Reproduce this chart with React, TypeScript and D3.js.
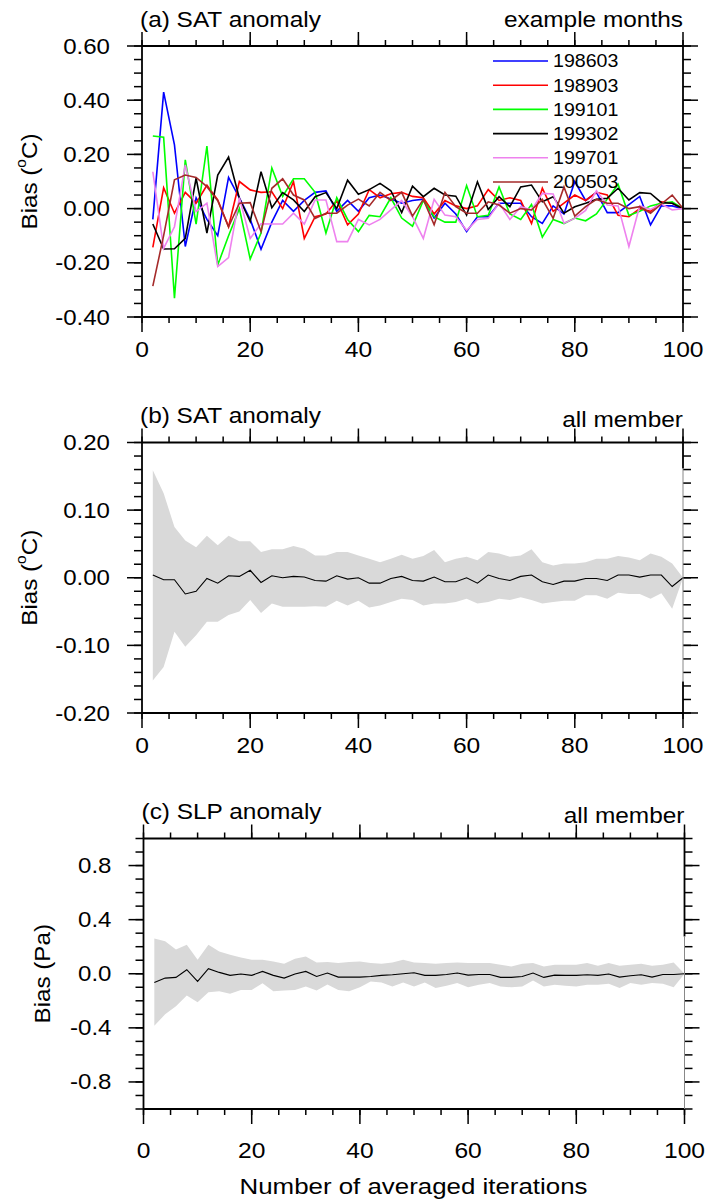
import * as d3 from 'd3'

// iteration counts (x axis)
const ITERS = [
  2, 4, 6, 8, 10, 12, 14, 16, 18, 20, 22, 24, 26, 28, 30, 32, 34, 36, 38, 40,
  42, 44, 46, 48, 50, 52, 54, 56, 58, 60, 62, 64, 66, 68, 70, 72, 74, 76, 78, 80,
  82, 84, 86, 88, 90, 92, 94, 96, 98, 100
]

// (a) SAT anomaly, example months
const MONTHS = ['198603', '198903', '199101', '199302', '199701', '200503']
const MONTH_COLORS = ['#0000ff', '#ff0000', '#00ff00', '#000000', '#ee82ee', '#a52a2a']

const s198603 = [
  -0.04, 0.43, 0.235, -0.14, 0.04, -0.04, -0.10, 0.115, 0.04, -0.04,
  -0.15, -0.05, 0.03, -0.01, 0.03, 0.06, 0.065, -0.01, 0.03, -0.01,
  0.04, 0.05, 0.035, 0.02, 0.03, 0.035, -0.035, 0.02, -0.02, -0.085,
  -0.03, -0.03, 0.02, 0.02, 0.02, -0.03, -0.055, 0.01, -0.02, 0.10,
  0.03, 0.06, -0.015, -0.015, 0.015, 0.045, -0.06, 0.01, 0.01, 0.0
]
const s198903 = [
  -0.143, 0.077, -0.017, 0.06, 0.02, 0.086, 0.032, -0.067, 0.10, 0.069,
  0.06, 0.062, 0.0, 0.10, -0.11, -0.03, -0.02, 0.03, -0.06, -0.02,
  0.07, 0.04, 0.055, 0.06, 0.045, 0.04, -0.02, 0.03, 0.01, 0.0,
  0.01, 0.07, 0.03, 0.04, 0.03, -0.055, 0.075, -0.01, 0.02, 0.05,
  0.03, 0.06, 0.05, -0.025, -0.03, 0.0, -0.01, 0.025, 0.02, 0.0
]
const s199101 = [
  0.268, 0.263, -0.331, 0.18, -0.057, 0.231, -0.208, -0.10, 0.0, -0.186,
  -0.09, 0.15, 0.045, 0.11, 0.11, 0.06, -0.09, 0.04, -0.04, -0.085,
  -0.025, -0.03, 0.04, -0.035, -0.065, 0.03, -0.03, -0.05, -0.05, 0.085,
  -0.03, -0.025, 0.08, -0.02, -0.04, 0.015, -0.105, -0.04, -0.055, -0.035,
  -0.045, -0.02, 0.035, 0.09, -0.025, -0.01, 0.01, 0.02, 0.025, 0.0
]
const s199302 = [
  -0.057, -0.149, -0.148, -0.11, 0.112, -0.09, 0.124, 0.19, 0.038, -0.048,
  0.136, 0.003, 0.059, 0.032, -0.011, 0.044, 0.059, 0.0, 0.105, 0.053,
  0.07, 0.093, 0.066, -0.015, 0.083, 0.044, 0.075, 0.05, 0.046, -0.024,
  0.099, -0.003, 0.044, 0.007, 0.08, 0.087, 0.025, 0.044, -0.017, 0.007,
  0.02, 0.034, 0.038, 0.075, 0.032, 0.059, 0.056, 0.022, 0.02, 0.0
]
const s199701 = [
  0.136, -0.147, -0.067, 0.161, -0.011, 0.02, -0.214, -0.181, 0.04, -0.11,
  -0.056, -0.057, -0.057, -0.017, -0.057, 0.032, 0.032, -0.122, -0.122, -0.04,
  -0.06, -0.04, -0.005, 0.03, -0.03, -0.11, 0.034, -0.024, -0.03, -0.08,
  -0.04, -0.036, 0.02, -0.04, 0.007, -0.005, 0.056, 0.054, -0.054, -0.036,
  -0.007, 0.066, 0.013, 0.01, -0.14, 0.01, -0.003, 0.017, -0.005, 0.0
]
const s200503 = [
  -0.286, -0.10, 0.106, 0.124, 0.115, 0.081, 0.029, -0.067, 0.02, 0.022,
  -0.085, 0.075, 0.11, 0.05, 0.032, -0.036, -0.017, -0.017, 0.013, 0.035,
  0.01, 0.06, 0.03, 0.06, -0.028, 0.034, -0.06, 0.06, 0.007, -0.017,
  -0.017, 0.025, 0.013, -0.017, 0.0, -0.005, 0.034, -0.036, 0.08, -0.028,
  0.007, 0.034, 0.02, 0.02, 0.0, 0.007, -0.017, 0.017, 0.05, 0.0
]
const MONTH_SERIES = [s198603, s198903, s199101, s199302, s199701, s200503]

// (b) SAT anomaly, all member: spread and mean
const satUpper = [
  0.159, 0.125, 0.075, 0.055, 0.045, 0.062, 0.048, 0.062, 0.054, 0.054,
  0.038, 0.042, 0.042, 0.047, 0.043, 0.033, 0.033, 0.038, 0.038, 0.033,
  0.028, 0.023, 0.028, 0.034, 0.028, 0.032, 0.041, 0.023, 0.028, 0.031,
  0.026, 0.038, 0.036, 0.031, 0.033, 0.042, 0.023, 0.018, 0.021, 0.021,
  0.023, 0.028, 0.028, 0.032, 0.03, 0.026, 0.036, 0.031, 0.021, 0.0
]
const satLower = [
  -0.152, -0.132, -0.08, -0.102, -0.085, -0.065, -0.065, -0.055, -0.05, -0.033,
  -0.052, -0.038, -0.043, -0.043, -0.043, -0.042, -0.043, -0.034, -0.041, -0.034,
  -0.044, -0.041, -0.036, -0.031, -0.033, -0.041, -0.038, -0.038, -0.036, -0.031,
  -0.038, -0.036, -0.031, -0.033, -0.029, -0.033, -0.038, -0.036, -0.034, -0.034,
  -0.026, -0.026, -0.031, -0.022, -0.024, -0.024, -0.031, -0.023, -0.046, 0.0
]
const satMean = [
  0.004, -0.003, -0.003, -0.024, -0.02, -0.001, -0.008, 0.003, 0.002, 0.011,
  -0.007, 0.003, 0.0, 0.002, 0.001, -0.004, -0.005, 0.003, -0.002, 0.0,
  -0.008, -0.008, -0.001, 0.002, -0.004, -0.005, 0.001, -0.006, -0.006, 0.0,
  -0.008, 0.004, -0.001, -0.004, 0.002, 0.004, -0.006, -0.01, -0.005, -0.005,
  -0.001, -0.001, -0.004, 0.004, 0.004, 0.001, 0.004, 0.004, -0.013, 0.0
]

// (c) SLP anomaly, all member
const slpUpper = [
  0.26, 0.24, 0.18, 0.215, 0.104, 0.215, 0.165, 0.14, 0.12, 0.104,
  0.104, 0.09, 0.074, 0.11, 0.128, 0.084, 0.086, 0.079, 0.086, 0.09,
  0.08, 0.074, 0.084, 0.104, 0.084, 0.08, 0.074, 0.08, 0.084, 0.08,
  0.08, 0.08, 0.067, 0.054, 0.074, 0.08, 0.054, 0.067, 0.067, 0.067,
  0.08, 0.06, 0.08, 0.06, 0.067, 0.074, 0.06, 0.067, 0.084, 0.0
]
const slpLower = [
  -0.385, -0.30, -0.24, -0.16, -0.21, -0.136, -0.13, -0.148, -0.12, -0.12,
  -0.07, -0.13, -0.123, -0.12, -0.094, -0.123, -0.08, -0.12, -0.13, -0.1,
  -0.057, -0.064, -0.094, -0.064, -0.094, -0.064, -0.106, -0.089, -0.069, -0.1,
  -0.081, -0.069, -0.094, -0.1, -0.094, -0.049, -0.094, -0.081, -0.089, -0.094,
  -0.081, -0.081, -0.074, -0.106, -0.069, -0.081, -0.069, -0.074, -0.1, 0.0
]
const slpMean = [
  -0.064, -0.032, -0.027, 0.03, -0.057, 0.037, 0.01, -0.012, -0.002, -0.012,
  0.017, -0.012, -0.032, -0.002, 0.017, -0.02, 0.005, -0.025, -0.025, -0.025,
  -0.02, -0.012, -0.007, 0.0, 0.007, -0.012, -0.012, -0.005, 0.005, -0.01,
  -0.005, -0.005, -0.027, -0.027, -0.02, 0.005, -0.027, -0.01, -0.012, -0.012,
  -0.007, -0.012, -0.002, -0.025, -0.015, -0.007, -0.025, -0.005, -0.005, 0.0
]

const X_MAJOR = [0, 20, 40, 60, 80, 100]
const FONT = "'Liberation Sans', Arial, Helvetica, sans-serif"

function Txt({ x, y, size = 22, sx = 1.12, rotate = 0, anchor = 'start', baseline = 'auto', children }: any) {
  const tr = `translate(${x},${y})` + (rotate ? ` rotate(${rotate})` : '') + ` scale(${sx},1)`
  return (
    <text transform={tr} fontSize={size} fontFamily={FONT} textAnchor={anchor} dominantBaseline={baseline} fill="#000">
      {children}
    </text>
  )
}

function Panel({ box, yDomain, yMajor, yMinorStep, digits, title, rightTitle, ylabel, labelGap, rightGap, children }: any) {
  const { left, right, top, bottom } = box
  const x = d3.scaleLinear().domain([0, 100]).range([left, right])
  const y = d3.scaleLinear().domain(yDomain).range([bottom, top])
  const xMinor = d3.range(0, 100.001, 5)
  const yMinor = d3.range(yDomain[0], yDomain[1] + 1e-9, yMinorStep)
  const MAJ = 15, MIN = 8
  const fmt = (v: number) => (Math.round(v * 1000) / 1000).toFixed(digits)
  const tick = { stroke: '#000', strokeWidth: 1.5 }

  return (
    <g>
      {children(x, y)}

      {/* x ticks, top and bottom, pointing outward */}
      {xMinor.map(v => (
        <g key={`xm${v}`}>
          <line x1={x(v)} x2={x(v)} y1={top} y2={top - 6} {...tick} />
          <line x1={x(v)} x2={x(v)} y1={bottom} y2={bottom + 6} {...tick} />
        </g>
      ))}
      {X_MAJOR.map(v => (
        <g key={`xM${v}`}>
          <line x1={x(v)} x2={x(v)} y1={top} y2={top - 14} {...tick} />
          <line x1={x(v)} x2={x(v)} y1={bottom} y2={bottom + MAJ} {...tick} />
          <Txt x={x(v)} y={bottom + labelGap} anchor="middle">{v}</Txt>
        </g>
      ))}

      {/* y ticks, left and right */}
      {yMinor.map((v: number, i: number) => (
        <g key={`ym${i}`}>
          <line x1={left - MIN} x2={left} y1={y(v)} y2={y(v)} {...tick} />
          <line x1={right} x2={right + MIN} y1={y(v)} y2={y(v)} {...tick} />
        </g>
      ))}
      {yMajor.map((v: number, i: number) => (
        <g key={`yM${i}`}>
          <line x1={left - MAJ} x2={left} y1={y(v)} y2={y(v)} {...tick} />
          <line x1={right} x2={right + MAJ} y1={y(v)} y2={y(v)} {...tick} />
          <Txt x={left - 32} y={y(v)} anchor="end" baseline="central" size={21.5}>{fmt(v)}</Txt>
        </g>
      ))}

      {/* frame */}
      <line x1={left} x2={right} y1={top} y2={top} stroke="#000" strokeWidth={1.8} />
      <line x1={left} x2={right} y1={bottom} y2={bottom} stroke="#000" strokeWidth={1.8} />
      <line x1={left} x2={left} y1={top} y2={bottom} stroke="#000" strokeWidth={1.8} />
      {rightGap ? (
        <g>
          <line x1={right} x2={right} y1={top} y2={top + rightGap[0]} stroke="#000" strokeWidth={1.8} />
          <line x1={right} x2={right} y1={top + rightGap[0]} y2={top + rightGap[1]} stroke="#888" strokeWidth={1} />
          <line x1={right} x2={right} y1={top + rightGap[1]} y2={bottom} stroke="#000" strokeWidth={1.8} />
        </g>
      ) : (
        <line x1={right} x2={right} y1={top} y2={bottom} stroke="#000" strokeWidth={1.8} />
      )}

      <Txt x={left - 2} y={top - 19.5} sx={1.11}>{title}</Txt>
      <Txt x={right} y={top - rightTitle.dy} anchor="end" sx={1.11}>{rightTitle.text}</Txt>
      <Txt x={ylabel.x} y={(top + bottom) / 2} rotate={-90} anchor="middle" baseline="central" sx={1.1}>
        {ylabel.content}
      </Txt>
    </g>
  )
}

function Band({ x, y, upper, lower, mean }: any) {
  const area = d3.area<number>()
    .x((_, i) => x(ITERS[i]))
    .y0((_, i) => y(lower[i]))
    .y1(d => y(d))
  const line = d3.line<number>()
    .x((_, i) => x(ITERS[i]))
    .y(d => y(d))
  return (
    <g>
      <path d={area(upper) || ''} fill="#d9d9d9" stroke="none" />
      <path d={line(mean) || ''} fill="none" stroke="#000" strokeWidth={1.1} />
    </g>
  )
}

const degC = (
  <>
    Bias (<tspan fontSize={14} dy={-8}>o</tspan><tspan dy={8}>C)</tspan>
  </>
)

export default function App() {
  const line = (x: any, y: any) => d3.line<number>()
    .x((_, i) => x(ITERS[i]))
    .y(d => y(d))

  return (
    <svg width={707} height={1202} style={{ position: 'absolute', left: 0, top: 0, background: '#fff' }}>
      <Panel
        box={{ left: 142, right: 683, top: 46, bottom: 317 }}
        yDomain={[-0.4, 0.6]}
        yMajor={[-0.4, -0.2, 0, 0.2, 0.4, 0.6]}
        yMinorStep={0.05}
        digits={2}
        title="(a) SAT anomaly"
        rightTitle={{ text: 'example months', dy: 19.5 }}
        ylabel={{ x: 29, content: degC }}
        labelGap={40}
      >
        {(x: any, y: any) => (
          <g>
            {MONTH_SERIES.map((s, k) => (
              <path key={MONTHS[k]} d={line(x, y)(s) || ''} fill="none" stroke={MONTH_COLORS[k]} strokeWidth={1.6} strokeLinejoin="miter" />
            ))}
            {MONTHS.map((m, k) => (
              <g key={`lg${m}`}>
                <line x1={493} x2={548} y1={61 + k * 24.2} y2={61 + k * 24.2} stroke={MONTH_COLORS[k]} strokeWidth={1.6} />
                <Txt x={553} y={61 + k * 24.2} baseline="central" size={18.5} sx={1.06}>{m}</Txt>
              </g>
            ))}
          </g>
        )}
      </Panel>

      <Panel
        box={{ left: 142, right: 683, top: 442.5, bottom: 713 }}
        yDomain={[-0.2, 0.2]}
        yMajor={[-0.2, -0.1, 0, 0.1, 0.2]}
        yMinorStep={0.02}
        digits={2}
        title="(b) SAT anomaly"
        rightTitle={{ text: 'all member', dy: 15.5 }}
        ylabel={{ x: 29, content: degC }}
        labelGap={40}
        rightGap={[26, 239]}
      >
        {(x: any, y: any) => <Band x={x} y={y} upper={satUpper} lower={satLower} mean={satMean} />}
      </Panel>

      <Panel
        box={{ left: 143.5, right: 684.5, top: 838.5, bottom: 1109 }}
        yDomain={[-1, 1]}
        yMajor={[-0.8, -0.4, 0, 0.4, 0.8]}
        yMinorStep={0.1}
        digits={1}
        title="(c) SLP anomaly"
        rightTitle={{ text: 'all member', dy: 15.5 }}
        ylabel={{ x: 42, content: 'Bias (Pa)' }}
        labelGap={49}
        rightGap={[98, 270.5]}
      >
        {(x: any, y: any) => <Band x={x} y={y} upper={slpUpper} lower={slpLower} mean={slpMean} />}
      </Panel>

      <Txt x={413.5} y={1193.5} anchor="middle" size={22.5} sx={1.15}>Number of averaged iterations</Txt>
    </svg>
  )
}
